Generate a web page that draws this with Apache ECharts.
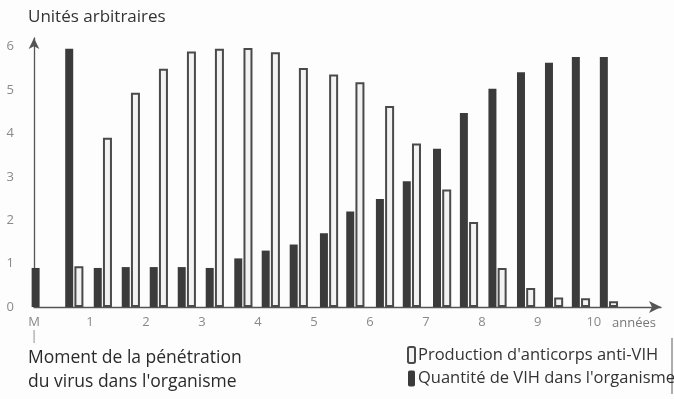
<!DOCTYPE html>
<html>
<head>
<meta charset="utf-8">
<script src="https://cdn.jsdelivr.net/npm/echarts@6/dist/echarts.min.js"></script>
<style>
html,body{margin:0;padding:0;background:#fdfdfd;}
#chart{width:674px;height:399px;}
</style>
</head>
<body>
<div id="chart"></div>
<script>
// Time (years) of each measurement pair
var times = [0.12, 0.72, 1.23, 1.73, 2.23, 2.73, 3.23, 3.74, 4.23, 4.73, 5.27, 5.74, 6.27, 6.75, 7.29, 7.77, 8.28, 8.79, 9.29, 9.77, 10.27];
// Quantité de VIH dans l'organisme
var vih = [0.9, 5.95, 0.9, 0.92, 0.92, 0.92, 0.9, 1.12, 1.3, 1.44, 1.7, 2.2, 2.49, 2.9, 3.65, 4.47, 5.03, 5.41, 5.63, 5.76, 5.76];
// Production d'anticorps anti-VIH
var anticorps = [null, 0.94, 3.9, 4.94, 5.49, 5.89, 5.95, 5.97, 5.87, 5.51, 5.36, 5.18, 4.63, 3.77, 2.71, 1.96, 0.9, 0.44, 0.22, 0.2, 0.13];
// x tick labels
var xLabels = ['M\n|', '1', '2', '3', '4', '5', '6', '7', '8', '9', '10'];
var yLabels = ['0', '1', '2', '3', '4', '5', '6'];

var nameAnti = "Production d'anticorps anti-VIH";
var nameVih = "Quantité de VIH dans l'organisme";

function pairs(arr) {
  return times.map(function (t, i) { return [t, arr[i] == null ? '-' : arr[i]]; });
}

var chart = echarts.init(document.getElementById('chart'), null, {renderer: 'canvas'});
var font = "'Open Sans', 'Noto Sans', sans-serif";

chart.setOption({
  backgroundColor: '#fdfdfd',
  animation: false,
  textStyle: {fontFamily: font},
  title: [
    {text: 'Unités arbitraires', left: 23, top: 4,
     textStyle: {fontSize: 17, fontWeight: 'normal', color: '#333', fontFamily: font}},
    {text: "Moment de la pénétration\ndu virus dans l'organisme", left: 23, top: 341,
     textStyle: {fontSize: 17.5, fontWeight: 'normal', color: '#2a2a2a', lineHeight: 24, fontFamily: font}}
  ],
  legend: {
    orient: 'vertical', left: 402, top: 341,
    itemWidth: 7, itemHeight: 16, itemGap: 6,
    data: [nameAnti, nameVih],
    textStyle: {fontSize: 16.5, color: '#333', fontFamily: font, padding: [0, 0, 0, -2]}
  },
  grid: {left: 34, right: 13, top: 38, bottom: 92, containLabel: false},
  xAxis: {
    type: 'value', min: 0, max: 11.2, interval: 1,
    name: 'années', nameLocation: 'end', nameGap: -49,
    nameTextStyle: {color: '#777', fontSize: 13, verticalAlign: 'top', padding: [10, 0, 0, 0]},
    axisLine: {show: true, lineStyle: {color: '#555', width: 1.3}, symbol: ['none', 'arrow'], symbolSize: [9, 12]},
    axisTick: {show: false},
    splitLine: {show: false},
    axisLabel: {
      color: '#8a8a8a', fontSize: 13, margin: 8, lineHeight: 14, showMaxLabel: false,
      formatter: function (v) { return v <= 10 ? xLabels[Math.round(v)] : ''; }
    }
  },
  yAxis: {
    type: 'value', min: 0, max: 6.2, interval: 1,
    axisLine: {show: true, lineStyle: {color: '#555', width: 1.3}, symbol: ['none', 'arrow'], symbolSize: [8, 11]},
    axisTick: {show: false},
    splitLine: {show: false},
    axisLabel: {
      color: '#8a8a8a', fontSize: 13, margin: 20, showMaxLabel: false,
      formatter: function (v) { return Math.abs(v - Math.round(v)) < 1e-6 && v <= 6 ? yLabels[Math.round(v)] : ''; }
    }
  },
  series: [
    {name: nameVih, type: 'bar', data: pairs(vih), barWidth: 8, barGap: '15%',
     itemStyle: {color: '#3b3b3b'}},
    {name: nameAnti, type: 'bar', data: pairs(anticorps), barWidth: 9,
     itemStyle: {color: '#f3f3f3', borderColor: '#4a4a4a', borderWidth: 2}}
  ],
  graphic: [
    {type: 'line', shape: {x1: 672, y1: 338, x2: 672, y2: 394}, style: {stroke: '#777', lineWidth: 1.2}}
  ]
});
</script>
</body>
</html>
